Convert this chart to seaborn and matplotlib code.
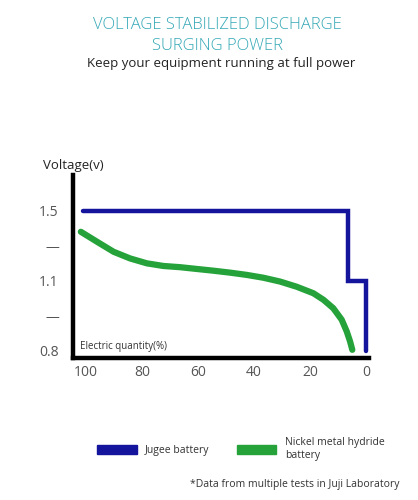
import numpy as np
import pandas as pd
import matplotlib
matplotlib.use("Agg")
import matplotlib.pyplot as plt
from matplotlib.patches import Patch
import seaborn as sns

# Jugee battery (step-shaped discharge)
jugee_charge = [101, 6.5, 6.5, 0, 0]
jugee_voltage = [1.5, 1.5, 1.1, 1.1, 0.8]

# Nickel metal hydride battery
nimh_charge = [101.9, 96.2, 90.2, 84.3, 78.3, 72.4, 66.4, 60.5, 54.5, 48.6, 42.6,
               36.7, 30.7, 24.8, 18.8, 15.2, 11.7, 8.7, 6.9, 5.7, 4.9]
nimh_voltage = [1.38, 1.324, 1.266, 1.228, 1.20, 1.185, 1.178, 1.168, 1.158, 1.147, 1.134,
                1.118, 1.097, 1.075, 1.047, 1.019, 0.983, 0.934, 0.884, 0.841, 0.805]

x_ticks = [100, 80, 60, 40, 20, 0]
y_ticks = [0.8, 0.95, 1.1, 1.3, 1.5]
y_tick_labels = ["0.8", "—", "1.1", "—", "1.5"]

BLUE = "#14149c"
GREEN = "#25a23a"
TEAL = "#34a8b6"

sns.set_style("white")
plt.rcParams["font.family"] = ["Open Sans", "DejaVu Sans"]

jugee = pd.DataFrame({"charge": jugee_charge, "voltage": jugee_voltage})
nimh = pd.DataFrame({"charge": nimh_charge, "voltage": nimh_voltage})

fig = plt.figure(figsize=(4.18, 5), dpi=100)
ax = fig.add_axes([0.174, 0.284, 0.709, 0.366])


# the picture spaces its voltage ticks evenly, so use a piecewise scale
def fwd(v):
    v = np.asarray(v, dtype=float)
    return np.where(v < 1.1, (v - 0.8) / 0.15, 2 + (v - 1.1) / 0.2)


def inv(p):
    p = np.asarray(p, dtype=float)
    return np.where(p < 2, 0.8 + p * 0.15, 1.1 + (p - 2) * 0.2)


ax.set_yscale("function", functions=(fwd, inv))

sns.lineplot(data=jugee, x="charge", y="voltage", sort=False, estimator=None,
             color=BLUE, linewidth=3.2, ax=ax, solid_joinstyle="miter")
sns.lineplot(data=nimh, x="charge", y="voltage", sort=False, estimator=None,
             color=GREEN, linewidth=4.5, ax=ax, solid_capstyle="round",
             solid_joinstyle="round")

ax.set_xlim(104.8, -1.1)
ax.set_ylim(0.77, 1.704)
ax.set_xticks(x_ticks)
ax.set_xticklabels([str(t) for t in x_ticks])
ax.set_yticks(y_ticks)
ax.set_yticklabels(y_tick_labels)
ax.tick_params(axis="both", length=0, labelsize=10, labelcolor="#555555")
ax.tick_params(axis="y", pad=10)
ax.tick_params(axis="x", pad=5)
ax.set_xlabel("")
ax.set_ylabel("")

for side in ["top", "right"]:
    ax.spines[side].set_visible(False)
for side in ["left", "bottom"]:
    ax.spines[side].set_linewidth(3.2)
    ax.spines[side].set_color("black")

ax.text(0.025, 0.035, "Electric quantity(%)", transform=ax.transAxes,
        fontsize=7, color="#333333", va="bottom", ha="left")
fig.text(43 / 418, 1 - 165 / 500, "Voltage(v)", fontsize=9.5, color="#222222",
         va="center", ha="left")

# titles
fig.text(0.52, 1 - 25 / 500, "VOLTAGE STABILIZED DISCHARGE", fontsize=12,
         color=TEAL, ha="center", va="center", fontweight="light")
fig.text(0.52, 1 - 46 / 500, "SURGING POWER", fontsize=12,
         color=TEAL, ha="center", va="center", fontweight="light")
fig.text(0.53, 1 - 63 / 500, "Keep your equipment running at full power",
         fontsize=9.5, color="#222222", ha="center", va="center")

handles = [Patch(facecolor=BLUE, edgecolor=BLUE), Patch(facecolor=GREEN, edgecolor=GREEN)]
fig.legend(handles, ["Jugee battery", "Nickel metal hydride\nbattery"], ncol=2,
           loc="upper left", bbox_to_anchor=(88 / 418, 1 - 428 / 500), frameon=False,
           fontsize=7.5, handlelength=3.8, handleheight=0.9, handletextpad=0.8,
           columnspacing=2.6, labelcolor="#333333")

fig.text(400 / 418, 1 - 484 / 500, "*Data from multiple tests in Juji Laboratory",
         fontsize=7.5, color="#333333", ha="right", va="center")

fig.savefig("out.png", dpi=100, facecolor="white")
